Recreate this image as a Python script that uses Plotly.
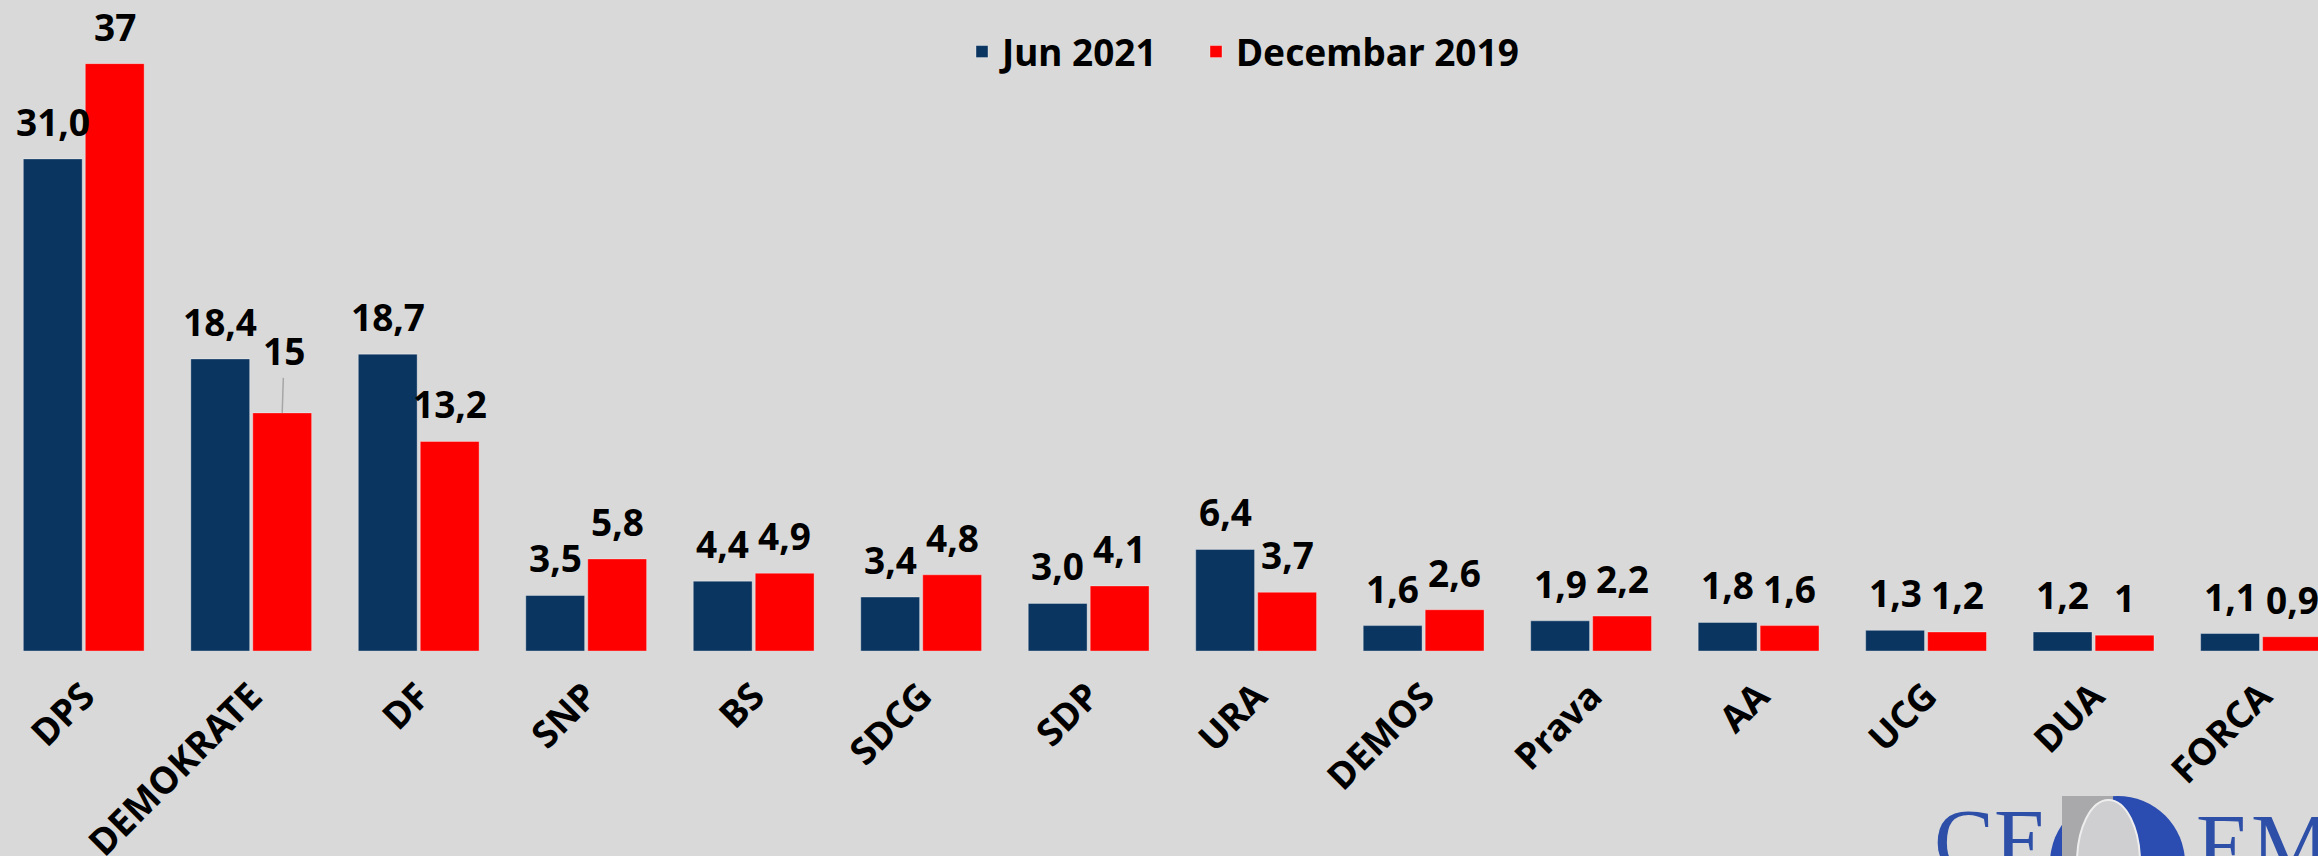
import plotly.graph_objects as go

# ---------------- data ----------------
categories = ["DPS", "DEMOKRATE", "DF", "SNP", "BS", "SDCG", "SDP", "URA",
              "DEMOS", "Prava", "AA", "UCG", "DUA", "FORCA"]
jun_2021 = [31.0, 18.4, 18.7, 3.5, 4.4, 3.4, 3.0, 6.4, 1.6, 1.9, 1.8, 1.3, 1.2, 1.1]
dec_2019 = [37, 15, 13.2, 5.8, 4.9, 4.8, 4.1, 3.7, 2.6, 2.2, 1.6, 1.2, 1, 0.9]
series_names = ["Jun 2021", "Decembar 2019"]

jun_labels = [f"{v:.1f}".replace(".", ",") for v in jun_2021]
dec_labels = [f"{v:g}".replace(".", ",") for v in dec_2019]

# ---------------- style / layout ----------------
W, H = 2318, 856
ML, MR, MT, MB = 0, 0, 16, 205
XRANGE = [-0.5, 13.34]
YRANGE = [0, 40]
BARGAP = 0.26
BARGROUPGAP = 0.05
NAVY = "#0b3561"
RED = "#ff0000"
BG = "#d9d9d9"
FONT = "Noto Sans, DejaVu Sans, sans-serif"
LABEL_SIZE = 37
LABEL_PAD = 10

plot_w = W - ML - MR
plot_h = H - MT - MB
ppu_x = plot_w / (XRANGE[1] - XRANGE[0])
slot = (1 - BARGAP) / 2
offset_px = slot / 2 * ppu_x


def px_to_paper_x(px):
    return (px - ML) / plot_w


def px_to_paper_y(py):
    return (H - MB - py) / plot_h


fig = go.Figure()
fig.add_trace(go.Bar(name=series_names[0], x=categories, y=jun_2021, legend="legend",
                     marker=dict(color=NAVY, line=dict(color="rgba(255,255,255,0.35)", width=1))))
fig.add_trace(go.Bar(name=series_names[1], x=categories, y=dec_2019, legend="legend2",
                     marker=dict(color=RED, line=dict(color="rgba(255,255,255,0.35)", width=1))))

annotations = []
label_font = dict(family=FONT, size=LABEL_SIZE, color="black", weight=700)
for vals, labels, sign, sidx in [(jun_2021, jun_labels, -1, 0), (dec_2019, dec_labels, 1, 1)]:
    for c, v, t in zip(categories, vals, labels):
        if c == "DEMOKRATE" and sidx == 1:
            annotations.append(dict(x=c, y=v, xref="x", yref="y", text=t,
                                    xshift=sign * offset_px, showarrow=True,
                                    arrowhead=0, arrowwidth=1.5, arrowcolor="#a6a6a6",
                                    ax=2, ay=-62, standoff=0, font=label_font))
        else:
            annotations.append(dict(x=c, y=v, xref="x", yref="y", text=t,
                                    xshift=sign * offset_px, yshift=LABEL_PAD,
                                    yanchor="bottom", showarrow=False, font=label_font))

# CEDEM logo (approximation)
logo_blue = "#2d4fa8"
logo_font = dict(family="Liberation Serif, serif", size=90, color=logo_blue)
annotations.append(dict(xref="paper", yref="paper", x=px_to_paper_x(1932), y=px_to_paper_y(790),
                        xanchor="left", yanchor="top", text="CE", showarrow=False, font=logo_font))
annotations.append(dict(xref="paper", yref="paper", x=px_to_paper_x(2194), y=px_to_paper_y(795),
                        xanchor="left", yanchor="top", text="EM", showarrow=False, font=logo_font))

shapes = [
    dict(type="circle", xref="paper", yref="paper", layer="above",
         x0=px_to_paper_x(2050), x1=px_to_paper_x(2185),
         y0=px_to_paper_y(796), y1=px_to_paper_y(930),
         fillcolor="#2b4cb0", line=dict(width=0)),
    dict(type="rect", xref="paper", yref="paper", layer="above",
         x0=px_to_paper_x(2062), x1=px_to_paper_x(2113),
         y0=px_to_paper_y(796), y1=px_to_paper_y(920),
         fillcolor="#a9a9ab", line=dict(width=0)),
    dict(type="circle", xref="paper", yref="paper", layer="above",
         x0=px_to_paper_x(2077), x1=px_to_paper_x(2140),
         y0=px_to_paper_y(800), y1=px_to_paper_y(925),
         fillcolor="#cfcfd1", line=dict(color="#eeeeee", width=2)),
]

legend_font = dict(family=FONT, size=37, color="black", weight=700)

fig.update_layout(
    width=W, height=H,
    margin=dict(l=ML, r=MR, t=MT, b=MB, pad=0, autoexpand=False),
    paper_bgcolor=BG, plot_bgcolor=BG,
    barmode="group", bargap=BARGAP, bargroupgap=BARGROUPGAP,
    showlegend=True,
    legend=dict(orientation="h", x=px_to_paper_x(962), xanchor="left",
                y=px_to_paper_y(52), yanchor="middle",
                font=legend_font, bgcolor="rgba(0,0,0,0)"),
    legend2=dict(orientation="h", x=px_to_paper_x(1196), xanchor="left",
                 y=px_to_paper_y(52), yanchor="middle",
                 font=legend_font, bgcolor="rgba(0,0,0,0)"),
    xaxis=dict(range=XRANGE, tickangle=-45, showgrid=False, showline=False, zeroline=False,
               ticks="", ticklabelstandoff=15, automargin=False,
               tickfont=dict(family=FONT, size=37, color="black", weight=700)),
    yaxis=dict(range=YRANGE, visible=False, showgrid=False, zeroline=False, automargin=False),
    annotations=annotations,
    shapes=shapes,
)

fig.write_html("out.html",
               config={"displayModeBar": False},
               post_script="document.body.style.margin='0';document.body.style.padding='0';"
                           "document.body.style.background='#d9d9d9';")
